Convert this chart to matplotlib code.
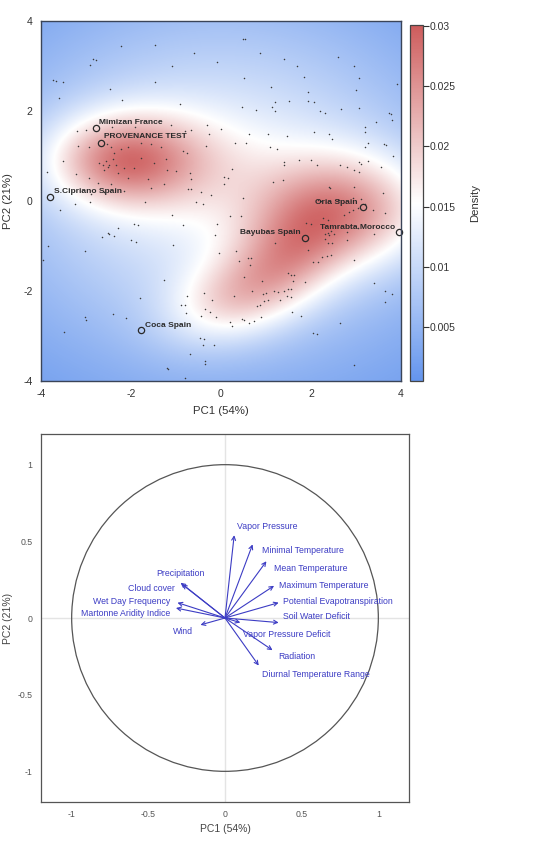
import numpy as np
import matplotlib
matplotlib.use("Agg")
import matplotlib.pyplot as plt
from matplotlib.colors import LinearSegmentedColormap
from matplotlib.patches import Circle

plt.rcParams['font.family'] = ['Liberation Sans', 'DejaVu Sans']
plt.rcParams['axes.unicode_minus'] = False

# ---------------- data: top panel ----------------
pc1 = [-2.22,-1.47,-0.61,-0.09,-2.84,-2.78,-2.91,-1.10,-3.73,-3.66,-3.52,-1.46,-2.47,-3.59,-2.21,-0.92,-0.32,-1.11,-3.01,-3.19,
       -2.43,-1.91,-0.67,-0.81,-0.26,-3.17,-2.93,-2.53,-2.44,-2.37,-2.22,-2.07,-1.78,-1.56,-1.33,-1.22,-0.85,-0.76,-0.33,-3.51,
       -2.70,-2.63,-2.56,-2.48,-2.41,-2.33,-2.61,-2.52,-2.30,-2.15,-1.93,-1.78,-1.48,-1.19,-1.00,-0.70,-0.67,-3.22,-3.87,-2.93,
       -2.74,-2.44,-2.07,-1.63,-1.26,-0.74,-0.67,-0.44,-0.22,-2.89,-2.59,-2.15,-1.56,
       0.48,0.54,0.87,1.41,2.61,1.68,2.96,0.52,1.84,3.06,3.90,1.10,1.93,2.99,1.19,1.51,1.93,2.06,0.47,0.78,
       1.13,1.20,2.19,2.30,2.67,3.07,3.74,3.78,3.79,3.45,0.00,3.21,2.07,3.21,0.62,1.04,1.47,2.39,2.47,3.26,
       3.19,3.63,3.67,0.30,0.56,1.09,1.25,3.83,1.39,1.40,1.73,2.00,2.14,2.65,2.79,3.06,3.12,3.26,3.56,2.96,
       3.06,0.24,0.07,0.15,0.07,1.16,1.37,2.39,2.43,2.96,3.59,0.48,2.15,2.22,2.59,2.63,2.93,3.11,
       -3.24,-2.92,-1.70,-0.56,-0.39,-3.57,-1.08,-1.94,-1.85,-0.84,-0.08,-2.28,-2.52,-2.49,-2.37,-2.64,-2.01,-1.89,-1.07,-0.13,
       -3.85,-3.03,-0.05,-3.96,-1.27,-1.81,-0.76,-0.37,-0.20,-0.90,-0.81,-0.78,-0.36,-0.24,-0.44,-0.11,-3.03,-3.00,-2.39,-2.12,
       -3.48,-0.47,-0.37,-0.40,-0.16,-0.68,-0.36,-0.35,-1.21,-1.18,-0.80,
       0.21,0.44,1.89,2.26,2.37,2.74,2.85,2.93,3.04,3.19,3.38,3.65,2.00,2.30,2.37,2.41,2.44,2.52,2.81,3.04,
       3.41,1.19,2.30,2.37,2.47,2.81,1.94,0.33,0.61,0.67,0.41,0.65,2.04,2.15,2.24,2.36,2.44,2.96,1.48,1.56,
       1.63,0.50,0.90,1.61,1.87,3.41,3.65,3.81,0.68,0.93,1.01,1.17,1.27,1.41,1.48,1.56,0.28,1.46,1.55,0.95,
       0.79,0.87,1.04,1.30,1.58,1.78,0.89,0.21,0.25,0.46,0.52,0.62,0.73,3.65,2.64,2.05,2.13,2.95]
pc2 = [3.45,3.47,3.28,3.10,3.16,3.14,3.03,2.99,2.70,2.67,2.64,2.64,2.49,2.28,2.24,2.16,1.69,1.69,1.58,1.56,
       1.65,1.65,1.57,1.56,1.48,1.23,1.19,1.26,1.19,1.07,1.15,1.20,1.30,1.27,1.21,0.93,1.12,1.06,1.22,0.89,
       0.85,0.80,0.89,0.81,0.93,0.79,0.70,0.76,0.63,0.74,0.74,0.96,0.85,0.70,0.67,0.63,0.50,0.61,0.65,0.52,
       0.41,0.37,0.52,0.48,0.37,0.27,0.26,0.19,0.13,0.15,0.19,0.22,0.30,
       3.59,3.59,3.29,3.15,3.21,2.99,2.99,2.73,2.76,2.73,2.59,2.54,2.43,2.47,2.20,2.22,2.22,2.19,2.08,2.02,
       2.08,2.00,2.00,1.96,2.05,2.06,1.95,1.93,1.79,1.76,1.59,1.64,1.54,1.53,1.50,1.48,1.45,1.48,1.37,1.30,
       1.19,1.26,1.24,1.28,1.30,1.20,1.16,0.99,0.87,0.80,0.92,0.92,0.81,0.81,0.76,0.86,0.83,0.89,0.76,0.70,
       0.65,0.72,0.54,0.52,0.37,0.42,0.47,0.31,0.28,0.31,0.18,0.07,0.03,0.01,0.03,0.02,0.07,0.05,
       -0.06,-0.03,-0.02,-0.02,-0.06,-0.19,-0.31,-0.50,-0.53,-0.54,-0.50,-0.61,-0.72,-0.73,-0.77,-0.81,-0.87,-0.90,-0.97,-0.76,
       -1.01,-1.11,-1.16,-1.31,-1.76,-2.16,-2.11,-2.04,-2.21,-2.30,-2.32,-2.49,-2.40,-2.47,-2.56,-2.58,-2.58,-2.65,-2.52,-2.61,
       -2.92,-3.04,-3.07,-3.19,-3.19,-3.41,-3.56,-3.63,-3.70,-3.73,-3.93,
       -0.33,-0.33,-0.48,-0.37,-0.43,-0.30,-0.24,-0.19,-0.15,-0.07,-0.21,-0.27,-0.52,-0.74,-0.70,-0.76,-0.67,-0.74,-0.69,-0.61,
       -0.74,-0.93,-0.85,-0.93,-0.93,-0.87,-1.08,-1.11,-1.27,-1.26,-1.33,-1.42,-1.36,-1.36,-1.24,-1.22,-1.20,-1.30,-1.61,-1.64,
       -1.64,-1.69,-1.78,-1.78,-1.80,-1.83,-2.01,-2.07,-1.99,-2.07,-2.05,-2.00,-2.02,-2.00,-1.96,-1.95,-2.11,-2.11,-2.13,-2.23,
       -2.33,-2.31,-2.20,-2.20,-2.46,-2.56,-2.58,-2.68,-2.77,-2.63,-2.65,-2.70,-2.67,-2.25,-2.71,-2.93,-2.96,-3.65]

site_names = ["Mimizan France", "PROVENANCE TEST", "S.Cipriano Spain", "Oria Spain",
              "Tamrabta Morocco", "Bayubas Spain", "Coca Spain"]
site_pc1 = [-2.78, -2.66, -3.79, 3.15, 3.95, 1.86, -1.78]
site_pc2 = [1.62, 1.30, 0.10, -0.13, -0.68, -0.83, -2.87]

# density surface: gaussian components (centre, spreads, angle, amplitude)
comp_x = [-2.30, -1.60, 2.80, 1.50, 0.20, 0.0]
comp_y = [0.90, 0.95, -0.20, -1.30, -2.20, 0.4]
comp_sx = [1.10, 1.40, 1.40, 1.00, 1.05, 3.8]
comp_sy = [0.70, 0.80, 0.90, 0.75, 0.65, 3.0]
comp_ang = [0, 0, 0, 40, 20, 0]
comp_amp = [0.011, 0.007, 0.015, 0.009, 0.009, 0.0135]

cbar_ticks = [0.005, 0.01, 0.015, 0.02, 0.025, 0.03]
cbar_min, cbar_max = 0.0005, 0.0301

# ---------------- data: bottom panel ----------------
var_names = ["Vapor Pressure", "Minimal Temperature", "Mean Temperature", "Maximum Temperature",
             "Potential Evapotranspiration", "Soil Water Deficit", "Vapor Pressure Deficit",
             "Radiation", "Diurnal Temperature Range", "Precipitation", "Cloud cover",
             "Wet Day Frequency", "Martonne Aridity Indice", "Wind"]
load_pc1 = [0.06, 0.18, 0.27, 0.32, 0.35, 0.35, 0.10, 0.31, 0.22, -0.29, -0.28, -0.31, -0.32, -0.16]
load_pc2 = [0.54, 0.48, 0.37, 0.21, 0.10, -0.03, -0.03, -0.21, -0.31, 0.23, 0.22, 0.10, 0.065, -0.045]

# label layout (data coords + alignment)
lab_pos = [(0.08, 0.60, 'left'), (0.24, 0.44, 'left'), (0.32, 0.32, 'left'), (0.35, 0.21, 'left'),
           (0.38, 0.11, 'left'), (0.38, 0.01, 'left'), (0.12, -0.11, 'left'), (0.35, -0.25, 'left'),
           (0.24, -0.37, 'left'), (-0.29, 0.29, 'center'), (-0.33, 0.19, 'right'),
           (-0.36, 0.107, 'right'), (-0.36, 0.027, 'right'), (-0.21, -0.088, 'right')]
site_lab = [(-2.71, 1.74, 'left'), (-2.59, 1.43, 'left'), (-3.70, 0.22, 'left'), (3.04, -0.04, 'right'),
            (3.87, -0.58, 'right'), (1.78, -0.71, 'right'), (-1.69, -2.77, 'left')]

# ---------------- figure ----------------
W, H = 559, 846
fig = plt.figure(figsize=(W / 100, H / 100), dpi=100)

def rect(x0, y0, x1, y1):
    return [x0 / W, 1 - y1 / H, (x1 - x0) / W, (y1 - y0) / H]

ax1 = fig.add_axes(rect(41, 21, 401, 381))
cax = fig.add_axes(rect(410, 25, 423, 381))
ax2 = fig.add_axes(rect(41, 434, 409, 802))

cmap = LinearSegmentedColormap.from_list("bwr_r", ["#6495ED", "#FFFFFF", "#CD5C5C"])

gx = np.linspace(-4, 4, 400)
GX, GY = np.meshgrid(gx, gx)
Z = np.zeros_like(GX)
for cx, cy, sx, sy, a, amp in zip(comp_x, comp_y, comp_sx, comp_sy, comp_ang, comp_amp):
    t = np.deg2rad(a)
    dx, dy = GX - cx, GY - cy
    u = dx * np.cos(t) + dy * np.sin(t)
    v = -dx * np.sin(t) + dy * np.cos(t)
    Z += amp * np.exp(-0.5 * ((u / sx) ** 2 + (v / sy) ** 2))

im = ax1.imshow(Z, extent=[-4, 4, -4, 4], origin='lower', cmap=cmap,
                vmin=cbar_min, vmax=cbar_max, interpolation='bilinear', aspect='auto')
ax1.plot(pc1, pc2, 'o', ms=1.1, mec='none', mfc='#3a3a3a')
ax1.plot(site_pc1, site_pc2, 'o', ms=4.5, mfc='none', mec='#2a2a2a', mew=0.9, clip_on=False)
for name, (lx, ly, ha) in zip(site_names, site_lab):
    ax1.text(lx, ly, name, fontsize=6.0, fontweight='bold', color='#2a2a2a', ha=ha, va='center')
ax1.set_xlim(-4, 4)
ax1.set_ylim(-4, 4)
ax1.set_xticks([-4, -2, 0, 2, 4])
ax1.set_yticks([-4, -2, 0, 2, 4])
ax1.tick_params(length=0, labelsize=7.5, pad=6, colors='#333333')
for s in ax1.spines.values():
    s.set_color('#3a4458')
    s.set_linewidth(1.0)
ax1.set_xlabel("PC1 (54%)", fontsize=8.2, color='#333333')
ax1.set_ylabel("PC2 (21%)", fontsize=8.2, color='#333333')
ax1.xaxis.set_label_coords(0.5, -0.083)
ax1.yaxis.set_label_coords(-0.092, 0.5)
ax1.xaxis.label.set_va('center')
ax1.yaxis.label.set_va('center')

cb = fig.colorbar(im, cax=cax, ticks=cbar_ticks)
cb.ax.set_yticklabels([str(t) for t in cbar_ticks])
cb.ax.tick_params(labelsize=7.5, length=4, width=0.8, colors='#333333', pad=1)
cb.outline.set_edgecolor('#444444')
cb.outline.set_linewidth(0.9)
cb.set_label("Density", fontsize=8.2, color='#333333', labelpad=10)

# bottom panel
ax2.axhline(0, color='#e4e4e4', lw=1.0, zorder=0)
ax2.axvline(0, color='#e4e4e4', lw=1.0, zorder=0)
ax2.add_patch(Circle((0, 0), 1.0, fill=False, ec='#555555', lw=0.9))
blue = '#3c3cc4'
for x, y in zip(load_pc1, load_pc2):
    ax2.annotate('', xy=(x, y), xytext=(0, 0),
                 arrowprops=dict(arrowstyle='->', color=blue, lw=0.8, mutation_scale=7,
                                 shrinkA=0, shrinkB=0))
for name, (lx, ly, ha) in zip(var_names, lab_pos):
    ax2.text(lx, ly, name, fontsize=6.3, color=blue, ha=ha, va='center')
ax2.set_xlim(-1.2, 1.2)
ax2.set_ylim(-1.2, 1.2)
ax2.set_xticks([-1, -0.5, 0, 0.5, 1])
ax2.set_yticks([-1, -0.5, 0, 0.5, 1])
ax2.set_xticklabels(['-1', '-0.5', '0', '0.5', '1'])
ax2.set_yticklabels(['-1', '-0.5', '0', '0.5', '1'])
ax2.tick_params(length=0, labelsize=6.3, pad=6, colors='#555555')
for s in ax2.spines.values():
    s.set_color('#555555')
    s.set_linewidth(0.9)
ax2.set_xlabel("PC1 (54%)", fontsize=7.5, color='#444444')
ax2.set_ylabel("PC2 (21%)", fontsize=7.5, color='#444444')
ax2.xaxis.set_label_coords(0.5, -0.073)
ax2.yaxis.set_label_coords(-0.09, 0.5)
ax2.xaxis.label.set_va('center')
ax2.yaxis.label.set_va('center')

fig.savefig("out.png", dpi=100)
